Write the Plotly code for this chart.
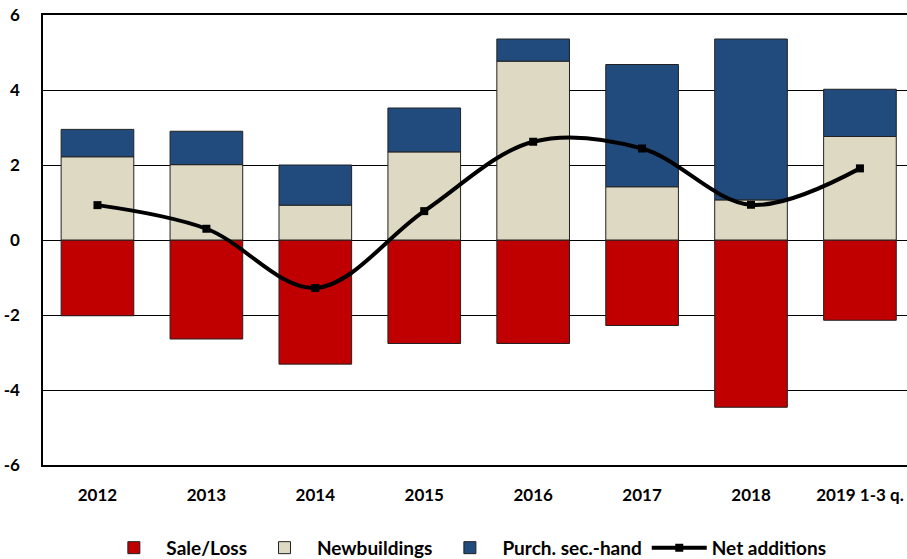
import plotly.graph_objects as go

categories = ["2012", "2013", "2014", "2015", "2016", "2017", "2018", "2019 1-3 q."]
sale_loss = [-2.02, -2.64, -3.31, -2.76, -2.76, -2.28, -4.46, -2.14]
newbuildings = [2.22, 2.01, 0.93, 2.35, 4.77, 1.42, 1.07, 2.76]
purch_sec_hand = [0.73, 0.89, 1.07, 1.17, 0.59, 3.26, 4.29, 1.26]
net_additions = [0.93, 0.30, -1.28, 0.77, 2.62, 2.44, 0.94, 1.91]
y_ticks = [-6, -4, -2, 0, 2, 4, 6]

FONT = "Lato, Carlito, Calibri, Open Sans, sans-serif"
x = list(range(len(categories)))
outline = dict(color="#222222", width=1)

fig = go.Figure()
fig.add_trace(go.Bar(x=x, y=sale_loss, name="<b>Sale/Loss</b>", marker=dict(color="#C00000", line=outline)))
fig.add_trace(go.Bar(x=x, y=newbuildings, name="<b>Newbuildings</b>", marker=dict(color="#DDD9C3", line=outline)))
fig.add_trace(go.Bar(x=x, y=purch_sec_hand, name="<b>Purch. sec.-hand</b>", marker=dict(color="#214A7D", line=outline)))
fig.add_trace(go.Scatter(x=x, y=net_additions, name="<b>Net additions</b>", mode="lines+markers",
                         line=dict(color="black", width=4, shape="spline", smoothing=1.0),
                         marker=dict(symbol="square", size=8, color="black")))

fig.update_layout(
    width=907, height=559,
    margin=dict(l=43, r=0, t=15, b=94),
    barmode="relative", bargap=0.333,
    plot_bgcolor="white", paper_bgcolor="white",
    font=dict(family=FONT, size=17, color="black"),
    showlegend=True,
    legend=dict(orientation="h", x=0.49, xanchor="center", yref="container", y=0.02, yanchor="middle",
                font=dict(family=FONT, size=19, color="black"), traceorder="normal",
                itemwidth=55),
    xaxis=dict(tickmode="array", tickvals=x, ticktext=["<b>%s</b>" % c for c in categories],
               range=[-0.5, 7.432], showgrid=False, zeroline=False,
               showline=True, mirror=True, linecolor="black", linewidth=1.5,
               ticks="", ticklabelstandoff=14, automargin=False),
    yaxis=dict(range=[-6, 6], tickmode="array", tickvals=y_ticks,
               ticktext=["<b>%d</b>" % v for v in y_ticks],
               showgrid=True, gridcolor="black", gridwidth=1,
               zeroline=True, zerolinecolor="black", zerolinewidth=1, automargin=False,
               showline=True, linecolor="black", linewidth=1.5, ticks="", ticklabelstandoff=18),
)

fig.write_html("out.html", config={"displayModeBar": False},
               post_script="document.body.style.margin='0';")
